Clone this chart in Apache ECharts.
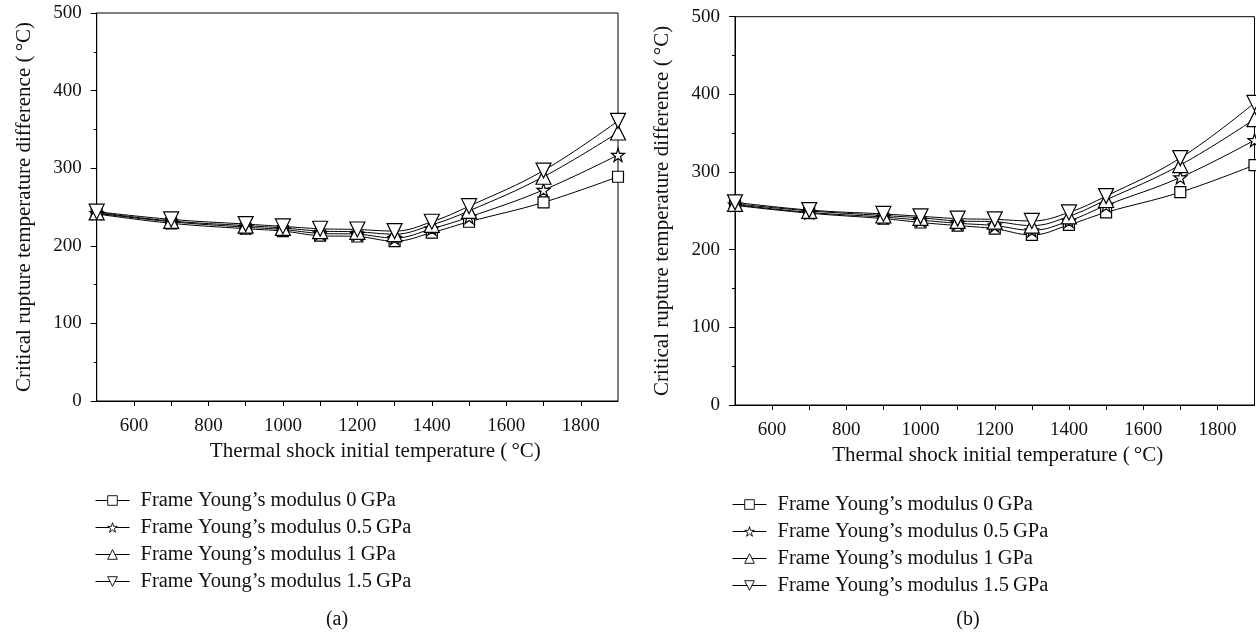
<!DOCTYPE html>
<html>
<head>
<meta charset="utf-8">
<script src="https://cdn.jsdelivr.net/npm/echarts@6/dist/echarts.min.js"></script>
<style>
html,body{margin:0;padding:0;background:#fff;}
#c{width:1256px;height:634px;}
</style>
</head>
<body>
<div id="c"></div>
<script>
// ---- data ----
const temps = [500, 700, 900, 1000, 1100, 1200, 1300, 1400, 1500, 1700, 1900];
const seriesNames = [
  "Frame Young\u2019s modulus 0\u2009GPa",
  "Frame Young\u2019s modulus 0.5\u2009GPa",
  "Frame Young\u2019s modulus 1\u2009GPa",
  "Frame Young\u2019s modulus 1.5\u2009GPa"
];
// panel (a)
const a_E0   = [241, 229, 222, 219, 213, 212, 206, 217, 231, 256, 289];
const a_E05  = [242, 231, 224, 221, 216, 215, 210, 222, 237, 272, 317];
const a_E1   = [243, 232, 226, 223, 219, 218, 215, 227, 245, 289, 346];
const a_E15  = [244, 234, 228, 225, 222, 221, 219, 231, 251, 297, 361];
// panel (b)
const b_E0   = [257, 247, 240, 235, 231, 227, 219, 232, 248, 274, 309];
const b_E05  = [258, 248, 242, 238, 234, 231, 225, 237, 257, 293, 341];
const b_E1   = [259, 250, 244, 241, 237, 236, 231, 243, 264, 309, 368];
const b_E15  = [261, 251, 246, 243, 240, 239, 237, 248, 269, 318, 389];
const xLabel = "Thermal shock initial temperature (\u2009\u00B0C)";
const yLabel = "Critical rupture temperature difference (\u2009\u00B0C)";
const captions = ["(a)", "(b)"];

// ---- styling ----
const FONT = "'Liberation Serif', 'DejaVu Serif', serif";
const starPath = 'path://M0,-1L0.2245,-0.309L0.951,-0.309L0.363,0.118L0.588,0.809L0,0.382L-0.588,0.809L-0.363,0.118L-0.951,-0.309L-0.2245,-0.309Z';
const invTriPath = 'path://M0,0L2,0L1,1.8Z';
const symbols = ['rect', starPath, 'triangle', invTriPath];
const symSizes = [11, 13, 15, 15];

function mkSeries(idx, data, gi) {
  return {
    name: seriesNames[idx],
    type: 'line',
    xAxisIndex: gi, yAxisIndex: gi,
    data: temps.map((t, i) => [t, data[i]]),
    smooth: 0.4,
    symbol: symbols[idx],
    symbolSize: symSizes[idx],
    showAllSymbol: true,
    lineStyle: { color: '#000', width: 1 },
    itemStyle: { color: '#fff', borderColor: '#000', borderWidth: 1.2 },
    emphasis: { disabled: true },
    z: 2 + idx
  };
}

function xAxis(gi, pad) {
  return {
    type: 'value', gridIndex: gi, min: 500, max: 1900, interval: 100,
    axisLine: { lineStyle: { color: '#000', width: 1 } },
    axisTick: { inside: false, length: 5, lineStyle: { color: '#000' } },
    axisLabel: { color: '#111', fontFamily: FONT, fontSize: 19, margin: 16,
      formatter: v => (v % 200 === 0 ? String(v) : ''), showMaxLabel: false, showMinLabel: false },
    splitLine: { show: false },
    name: xLabel, nameLocation: 'middle', nameGap: 38,
    nameTextStyle: { color: '#111', fontFamily: FONT, fontSize: 21, padding: pad }
  };
}
function yAxis(gi) {
  return {
    type: 'value', gridIndex: gi, min: 0, max: 500, interval: 100,
    axisLine: { show: true, lineStyle: { color: '#000', width: 1 } },
    axisTick: { show: true, inside: false, length: 6, lineStyle: { color: '#000' } },
    minorTick: { show: true, splitNumber: 2, length: 3, lineStyle: { color: '#000' } },
    axisLabel: { color: '#111', fontFamily: FONT, fontSize: 19, margin: 15 },
    splitLine: { show: false },
    name: yLabel, nameLocation: 'middle', nameGap: 62, nameRotate: 90,
    nameTextStyle: { color: '#111', fontFamily: FONT, fontSize: 21 }
  };
}
function legend(left, top) {
  return {
    orient: 'vertical', left: left, top: top,
    itemWidth: 34, itemHeight: 12, itemGap: 6,
    data: seriesNames,
    itemStyle: { borderWidth: 0.9 },
    lineStyle: { width: 1 },
    textStyle: { color: '#111', fontFamily: FONT, fontSize: 20.5, padding: [0, 0, 0, 6] },
    selectedMode: false
  };
}

const chart = echarts.init(document.getElementById('c'), null, { renderer: 'canvas' });
chart.setOption({
  animation: false,
  backgroundColor: '#fff',
  grid: [
    { left: 96.7, top: 13, width: 521.3, height: 388, show: true, borderColor: '#000', borderWidth: 1, containLabel: false },
    { left: 735, top: 16.7, width: 519.5, height: 388.3, show: true, borderColor: '#000', borderWidth: 1, containLabel: false }
  ],
  xAxis: [xAxis(0, [0, 0, 0, 36]), xAxis(1, [0, 0, 0, 6])],
  yAxis: [yAxis(0), yAxis(1)],
  legend: [legend(90, 485), legend(727, 489)],
  series: [
    mkSeries(0, a_E0, 0), mkSeries(1, a_E05, 0), mkSeries(2, a_E1, 0), mkSeries(3, a_E15, 0),
    mkSeries(0, b_E0, 1), mkSeries(1, b_E05, 1), mkSeries(2, b_E1, 1), mkSeries(3, b_E15, 1)
  ],
  graphic: [
    { type: 'text', style: { text: captions[0], font: '20px ' + FONT, fill: '#111', x: 337, y: 620, align: 'center', verticalAlign: 'middle' } },
    { type: 'text', style: { text: captions[1], font: '20px ' + FONT, fill: '#111', x: 968, y: 620, align: 'center', verticalAlign: 'middle' } }
  ]
});
</script>
</body>
</html>
